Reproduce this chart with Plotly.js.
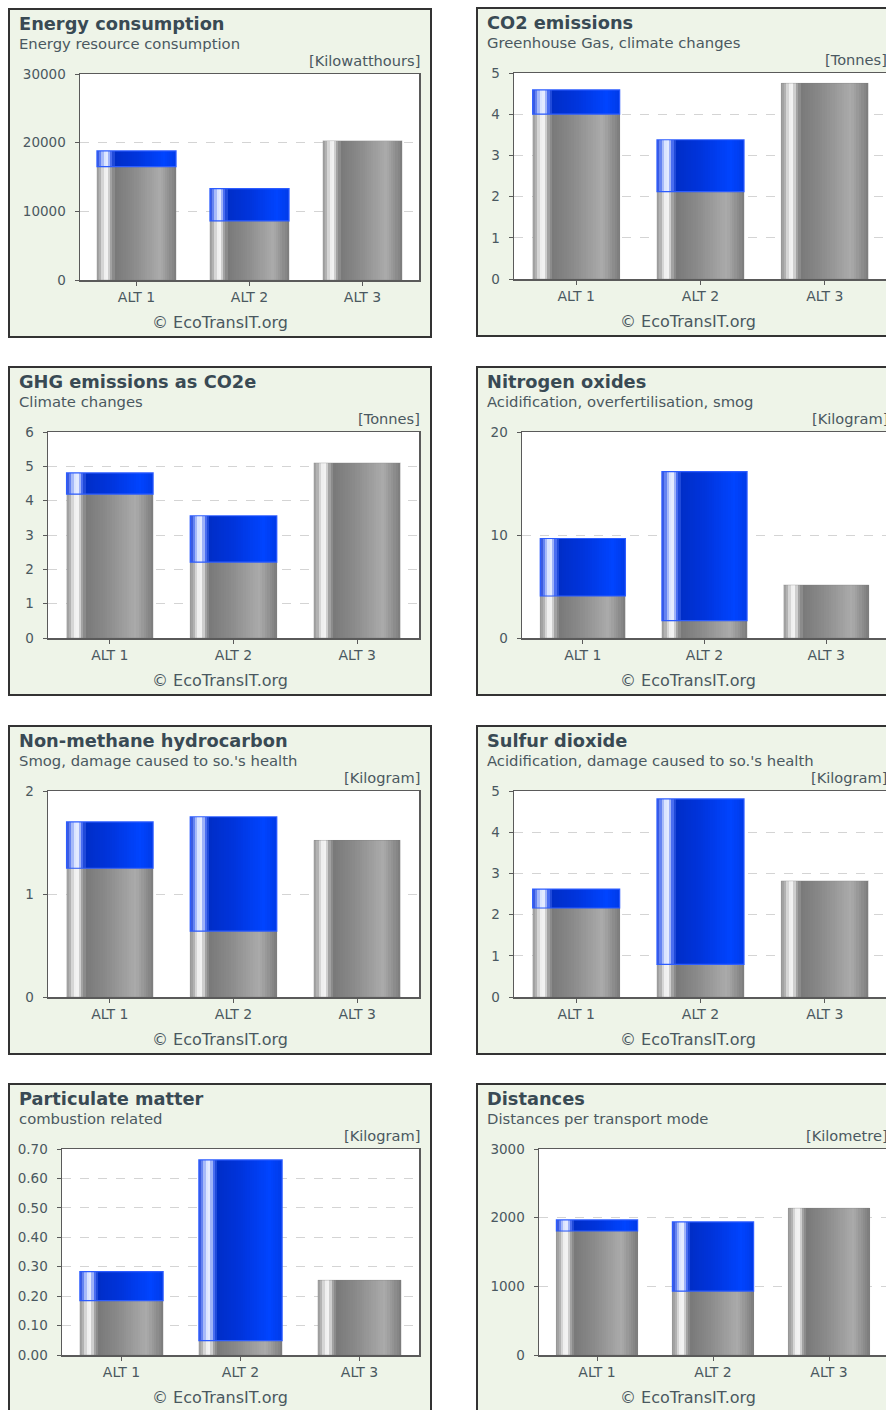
<!DOCTYPE html>
<html><head><meta charset="utf-8">
<script src="https://cdn.plot.ly/plotly-3.0.1.min.js"></script>
<style>
html,body{margin:0;padding:0;width:886px;height:1410px;overflow:hidden;background:#ffffff;}
.panel{position:absolute;width:424px;height:330px;box-sizing:border-box;border:2px solid #333;background:#eef4e8;}
.panel > div{width:420px;height:326px;}
</style></head><body>
<div class="panel" style="left:8px;top:8px"><div id="c0"></div></div>
<div class="panel" style="left:476px;top:7px"><div id="c1"></div></div>
<div class="panel" style="left:8px;top:366px"><div id="c2"></div></div>
<div class="panel" style="left:476px;top:366px"><div id="c3"></div></div>
<div class="panel" style="left:8px;top:725px"><div id="c4"></div></div>
<div class="panel" style="left:476px;top:725px"><div id="c5"></div></div>
<div class="panel" style="left:8px;top:1083px"><div id="c6"></div></div>
<div class="panel" style="left:476px;top:1083px"><div id="c7"></div></div>
<script>
// ---------- data ----------
const categories = ["ALT 1", "ALT 2", "ALT 3"];

const titles = ["Energy consumption", "CO2 emissions", "GHG emissions as CO2e", "Nitrogen oxides",
                "Non-methane hydrocarbon", "Sulfur dioxide", "Particulate matter", "Distances"];
const subtitles = ["Energy resource consumption", "Greenhouse Gas, climate changes", "Climate changes",
                   "Acidification, overfertilisation, smog", "Smog, damage caused to so.'s health",
                   "Acidification, damage caused to so.'s health", "combustion related", "Distances per transport mode"];
const units = ["[Kilowatthours]", "[Tonnes]", "[Tonnes]", "[Kilogram]", "[Kilogram]", "[Kilogram]", "[Kilogram]", "[Kilometre]"];
const copyright = "© EcoTransIT.org";

// lower (grey) and upper (blue) segments of each stacked bar
const energyLower = [16500, 8600, 20300];
const energyUpper = [2300, 4700, 0];
const co2Lower = [4.00, 2.12, 4.75];
const co2Upper = [0.59, 1.26, 0];
const ghgLower = [4.19, 2.21, 5.10];
const ghgUpper = [0.62, 1.35, 0];
const noxLower = [4.08, 1.68, 5.15];
const noxUpper = [5.58, 14.47, 0];
const nmhcLower = [1.25, 0.64, 1.52];
const nmhcUpper = [0.45, 1.11, 0];
const so2Lower = [2.16, 0.79, 2.82];
const so2Upper = [0.46, 4.02, 0];
const pmLower = [0.185, 0.049, 0.254];
const pmUpper = [0.098, 0.614, 0];
const distLower = [1806, 930, 2138];
const distUpper = [161, 1008, 0];

const yMax = [30000, 5, 6, 20, 2, 5, 0.70, 3000];
const yStep = [10000, 1, 1, 10, 1, 1, 0.10, 1000];
const yFormat = ["d", "d", "d", "d", "d", "d", ".2f", "d"];

// ---------- styling ----------
const lowers = [energyLower, co2Lower, ghgLower, noxLower, nmhcLower, so2Lower, pmLower, distLower];
const uppers = [energyUpper, co2Upper, ghgUpper, noxUpper, nmhcUpper, so2Upper, pmUpper, distUpper];
const leftMargins = [70, 35.5, 38, 44, 38, 35.5, 52, 61];

const grayStops = [[0,'#9a9a9a'],[0.04,'#b0b0b0'],[0.09,'#eeeeee'],[0.13,'#f2f2f2'],[0.18,'#a2a2a2'],[0.23,'#7a7a7a'],[0.45,'#898989'],[0.8,'#ababab'],[1,'#7c7c7c']];
const blueStops = [[0,'#2848d8'],[0.04,'#6080f0'],[0.09,'#d8e2ff'],[0.13,'#e4ebff'],[0.18,'#4a6ef0'],[0.23,'#002ec8'],[0.5,'#0034dc'],[0.85,'#0044ff'],[1,'#003ae8']];

function hex2rgb(h){return [parseInt(h.substr(1,2),16),parseInt(h.substr(3,2),16),parseInt(h.substr(5,2),16)];}
function lerp(stops,f){
  for(let i=0;i<stops.length-1;i++){
    const [a,ca]=stops[i],[b,cb]=stops[i+1];
    if(f>=a && f<=b){
      const t=(f-a)/(b-a), A=hex2rgb(ca), B=hex2rgb(cb);
      return 'rgb('+A.map((v,j)=>Math.round(v+(B[j]-v)*t)).join(',')+')';
    }
  }
  return stops[stops.length-1][1];
}

const textColor = '#4a5860';
const titleColor = '#394a54';
const FONT = 'DejaVu Sans, Verdana, sans-serif';

function build(i){
  const W=420,H=326, mt=64, mb=56, mr=11, ml=leftMargins[i];
  const pw=W-ml-mr, ph=H-mt-mb;
  const px = x => (x-ml)/pw, py = y => 1-(y-mt)/ph;
  const traces=[];
  const N=36, bw=0.7;
  const lower=lowers[i], upper=uppers[i].map(v=>v>0?v:null);
  function addSeg(vals, bases, stops, lineColor, lineW){
    for(let k=0;k<N;k++){
      const f0=k/N, fm=(k+0.5)/N;
      traces.push({type:'bar', x:categories, y:vals, base:bases,
        offset:-bw/2+bw*f0, width:bw/N*(k<N-1?1.4:1),
        marker:{color:lerp(stops,fm), line:{width:0}}, hoverinfo:'skip', showlegend:false});
    }
    traces.push({type:'bar', x:categories, y:vals, base:bases, offset:-bw/2, width:bw,
      marker:{color:'rgba(0,0,0,0)', line:{width:lineW,color:lineColor}}, hoverinfo:'skip', showlegend:false});
  }
  addSeg(lower, [0,0,0], grayStops, 'rgba(120,120,120,0.6)', 0.5);
  addSeg(upper, lower, blueStops, '#2c5cff', 1.2);

  const layout = {
    width:W, height:H, margin:{l:ml, r:mr, t:mt, b:mb, pad:0},
    paper_bgcolor:'#eef4e8', plot_bgcolor:'#ffffff',
    barmode:'overlay', showlegend:false, bargap:0,
    font:{family:FONT, color:textColor, size:13},
    xaxis:{type:'category', range:[-0.5,2.5], showline:true, linecolor:'#5a5a5a', linewidth:1.5, mirror:true,
      ticks:'outside', ticklen:4, tickcolor:'#5a5a5a', tickfont:{size:14, color:textColor}, showgrid:false, fixedrange:true},
    yaxis:{range:[0,yMax[i]], dtick:yStep[i], tick0:0, tickformat:yFormat[i], showline:true, linecolor:'#5a5a5a', linewidth:1.5, mirror:true,
      ticks:'outside', ticklen:4, tickcolor:'#5a5a5a', ticklabelstandoff:6, tickfont:{size:13.5, color:textColor},
      showgrid:true, gridcolor:'#d4d4d4', griddash:'dash', gridwidth:1, zeroline:false, fixedrange:true},
    annotations:[
      {text:'<b>'+titles[i]+'</b>', xref:'paper', yref:'paper', x:px(6.5), y:py(13.5), xanchor:'left', yanchor:'middle', showarrow:false, font:{size:17.8, color:titleColor, family:FONT}},
      {text:subtitles[i], xref:'paper', yref:'paper', x:px(6.5), y:py(33), xanchor:'left', yanchor:'middle', showarrow:false, font:{size:14.8, color:textColor, family:FONT}},
      {text:units[i], xref:'paper', yref:'paper', x:px(411.5), y:py(50.5), xanchor:'right', yanchor:'middle', showarrow:false, font:{size:14.6, color:textColor, family:FONT}},
      {text:copyright, xref:'paper', yref:'paper', x:px(210), y:py(312), xanchor:'center', yanchor:'middle', showarrow:false, font:{size:16, color:textColor, family:FONT}}
    ]
  };
  Plotly.newPlot('c'+i, traces, layout, {staticPlot:true, displayModeBar:false});
}
for(let i=0;i<8;i++) build(i);
</script>
</body></html>
